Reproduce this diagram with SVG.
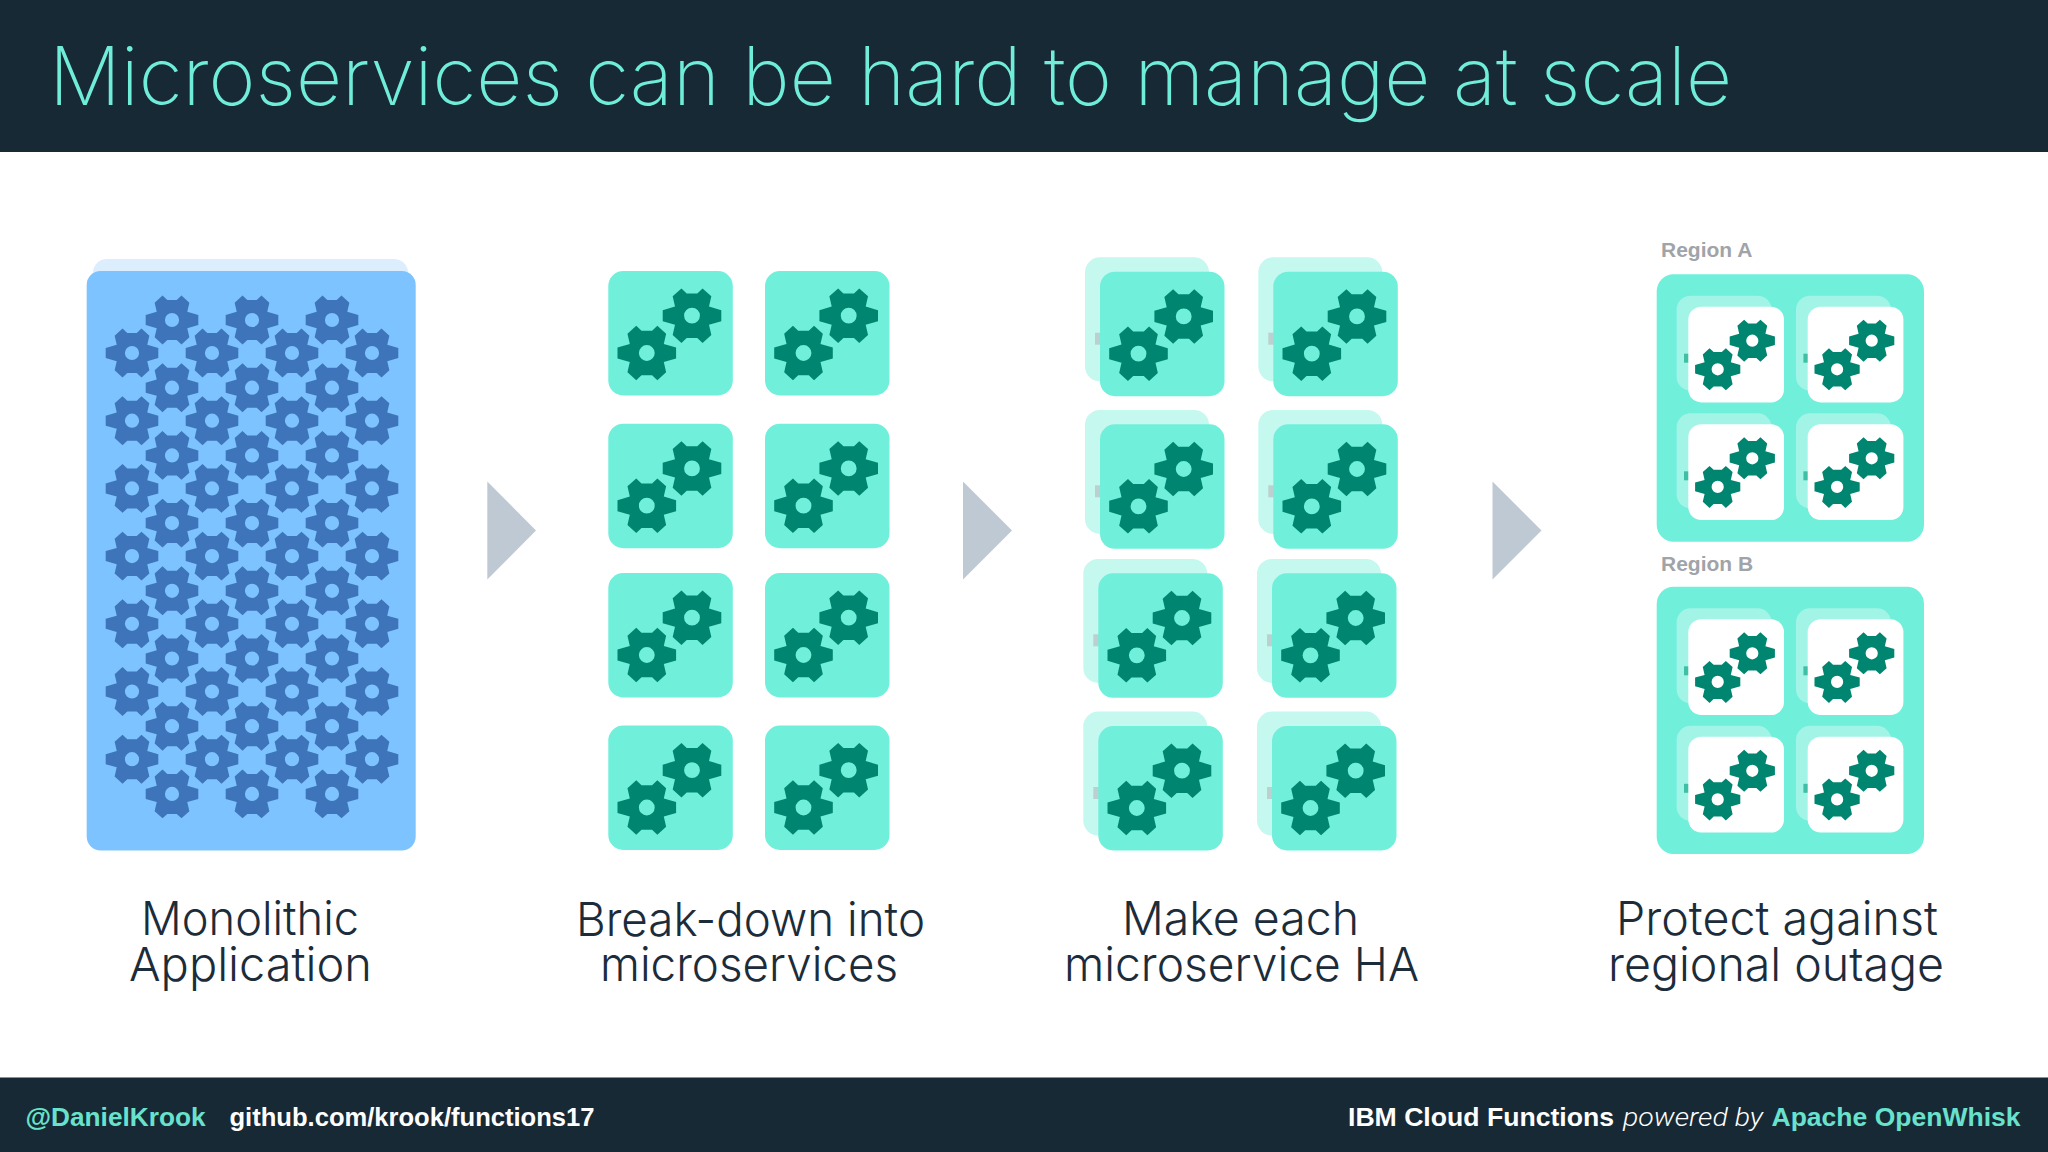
<svg xmlns="http://www.w3.org/2000/svg" width="2048" height="1152" viewBox="0 0 2048 1152">
<style>
.bar{fill:#182936}
.title{font:250 81px Inter,"Liberation Sans",sans-serif;fill:#6fedd8}
.lab{font:300 47px Inter,"Liberation Sans",sans-serif;fill:#1c2c3a}
.foot{font:700 26px "Liberation Sans",Arial,sans-serif}
.ft{fill:#68e2cc}.fw{fill:#fff}
.it{font:italic 300 26px Roboto,"Liberation Sans",sans-serif;fill:#fff}
.reg{font:700 21px "Liberation Sans",Arial,sans-serif;fill:#a0a4a8}
.tri{fill:#bfc9d4}
.mg{fill:#3e74b9}
.tg{fill:#008670}
.teal{fill:#70efdb}
</style>
<defs>
<path id="gear" fill-rule="evenodd" d="M100-19L58-31L66-66L36-93L18-76L-18-76L-36-93L-66-66L-58-31L-100-19L-100 19L-58 31L-66 66L-36 93L-18 76L18 76L36 93L66 66L58 31L100 19ZM27 0A27 27 0 1 0-27 0A27 27 0 1 0 27 0Z"/>
<g id="pair" class="tg">
<use href="#gear" transform="translate(83.7 44.7) scale(.293)"/>
<use href="#gear" transform="translate(38.5 82) scale(.293)"/>
</g>
<g id="card"><rect class="teal" width="124.5" height="124.5" rx="15"/><use href="#pair"/></g>
<g id="ha">
<rect x="-15" y="-14.4" width="124" height="124" rx="15" fill="#c5f8ef"/>
<rect x="-5" y="61" width="6" height="12" fill="#bcd0d0"/>
<use href="#card"/>
</g>
<g id="mini">
<rect x="-11.7" y="-11" width="95" height="95" rx="14" fill="#fff" fill-opacity=".35"/>
<rect x="-4.3" y="47" width="5" height="9" fill="#3fc0a6"/>
<rect width="95.7" height="95.7" rx="13" fill="#fff"/>
<g class="tg">
<use href="#gear" transform="translate(64 34) scale(.226)"/>
<use href="#gear" transform="translate(29.4 62.6) scale(.226)"/>
</g>
</g>
</defs>
<rect width="2048" height="1152" fill="#fff"/>
<rect class="bar" width="2048" height="152"/>
<text class="title" x="49" y="105" textLength="1683" lengthAdjust="spacingAndGlyphs">Microservices can be hard to manage at scale</text>
<g id="monolith">
<rect x="93" y="259" width="315" height="60" rx="14" fill="#dcedfe"/>
<rect x="86.7" y="271" width="329" height="579.5" rx="14" fill="#7cc3ff"/>
<g class="mg">
<use href="#gear" transform="translate(172 320) scale(.263)"/><use href="#gear" transform="translate(172 387.7) scale(.263)"/><use href="#gear" transform="translate(172 455.4) scale(.263)"/><use href="#gear" transform="translate(172 523.1) scale(.263)"/><use href="#gear" transform="translate(172 590.8) scale(.263)"/><use href="#gear" transform="translate(172 658.5) scale(.263)"/><use href="#gear" transform="translate(172 726.2) scale(.263)"/><use href="#gear" transform="translate(172 793.9) scale(.263)"/>
<use href="#gear" transform="translate(252 320) scale(.263)"/><use href="#gear" transform="translate(252 387.7) scale(.263)"/><use href="#gear" transform="translate(252 455.4) scale(.263)"/><use href="#gear" transform="translate(252 523.1) scale(.263)"/><use href="#gear" transform="translate(252 590.8) scale(.263)"/><use href="#gear" transform="translate(252 658.5) scale(.263)"/><use href="#gear" transform="translate(252 726.2) scale(.263)"/><use href="#gear" transform="translate(252 793.9) scale(.263)"/>
<use href="#gear" transform="translate(332 320) scale(.263)"/><use href="#gear" transform="translate(332 387.7) scale(.263)"/><use href="#gear" transform="translate(332 455.4) scale(.263)"/><use href="#gear" transform="translate(332 523.1) scale(.263)"/><use href="#gear" transform="translate(332 590.8) scale(.263)"/><use href="#gear" transform="translate(332 658.5) scale(.263)"/><use href="#gear" transform="translate(332 726.2) scale(.263)"/><use href="#gear" transform="translate(332 793.9) scale(.263)"/>
<use href="#gear" transform="translate(132 353) scale(.263)"/><use href="#gear" transform="translate(132 420.7) scale(.263)"/><use href="#gear" transform="translate(132 488.4) scale(.263)"/><use href="#gear" transform="translate(132 556.1) scale(.263)"/><use href="#gear" transform="translate(132 623.8) scale(.263)"/><use href="#gear" transform="translate(132 691.5) scale(.263)"/><use href="#gear" transform="translate(132 759.2) scale(.263)"/>
<use href="#gear" transform="translate(212 353) scale(.263)"/><use href="#gear" transform="translate(212 420.7) scale(.263)"/><use href="#gear" transform="translate(212 488.4) scale(.263)"/><use href="#gear" transform="translate(212 556.1) scale(.263)"/><use href="#gear" transform="translate(212 623.8) scale(.263)"/><use href="#gear" transform="translate(212 691.5) scale(.263)"/><use href="#gear" transform="translate(212 759.2) scale(.263)"/>
<use href="#gear" transform="translate(292 353) scale(.263)"/><use href="#gear" transform="translate(292 420.7) scale(.263)"/><use href="#gear" transform="translate(292 488.4) scale(.263)"/><use href="#gear" transform="translate(292 556.1) scale(.263)"/><use href="#gear" transform="translate(292 623.8) scale(.263)"/><use href="#gear" transform="translate(292 691.5) scale(.263)"/><use href="#gear" transform="translate(292 759.2) scale(.263)"/>
<use href="#gear" transform="translate(372 353) scale(.263)"/><use href="#gear" transform="translate(372 420.7) scale(.263)"/><use href="#gear" transform="translate(372 488.4) scale(.263)"/><use href="#gear" transform="translate(372 556.1) scale(.263)"/><use href="#gear" transform="translate(372 623.8) scale(.263)"/><use href="#gear" transform="translate(372 691.5) scale(.263)"/><use href="#gear" transform="translate(372 759.2) scale(.263)"/>
</g>
<text class="lab" x="141" y="935" textLength="218" lengthAdjust="spacingAndGlyphs">Monolithic</text>
<text class="lab" x="129" y="981" textLength="243" lengthAdjust="spacingAndGlyphs">Application</text>
</g>
<g id="connectors">
<polygon class="tri" points="487.3,481.5 536,530.5 487.3,579.5"/>
<polygon class="tri" points="963,481.5 1012,530.5 963,579.5"/>
<polygon class="tri" points="1492.5,481.5 1541.5,530.5 1492.5,579.5"/>
</g>
<g id="microservices">
<use href="#card" x="608.3" y="271"/><use href="#card" x="765" y="271"/>
<use href="#card" x="608.3" y="423.7"/><use href="#card" x="765" y="423.7"/>
<use href="#card" x="608.3" y="573"/><use href="#card" x="765" y="573"/>
<use href="#card" x="608.3" y="725.5"/><use href="#card" x="765" y="725.5"/>
<text class="lab" x="576" y="936" textLength="349" lengthAdjust="spacingAndGlyphs">Break-down into</text>
<text class="lab" x="600" y="981" textLength="298" lengthAdjust="spacingAndGlyphs">microservices</text>
</g>
<g id="ha-microservices">
<use href="#ha" x="1100" y="271.7"/><use href="#ha" x="1273.3" y="271.7"/>
<use href="#ha" x="1100" y="424.3"/><use href="#ha" x="1273.3" y="424.3"/>
<use href="#ha" x="1098.3" y="573.3"/><use href="#ha" x="1272" y="573.3"/>
<use href="#ha" x="1098.3" y="726"/><use href="#ha" x="1272" y="726"/>
<text class="lab" x="1122" y="935" textLength="237" lengthAdjust="spacingAndGlyphs">Make each</text>
<text class="lab" x="1064" y="981" textLength="355" lengthAdjust="spacingAndGlyphs">microservice HA</text>
</g>
<g id="regions">
<text class="reg" x="1661" y="256.5">Region A</text>
<rect class="teal" x="1656.7" y="274.3" width="267.3" height="267.4" rx="17"/>
<use href="#mini" x="1688.3" y="306.7"/><use href="#mini" x="1807.7" y="306.7"/>
<use href="#mini" x="1688.3" y="424.3"/><use href="#mini" x="1807.7" y="424.3"/>
<text class="reg" x="1661" y="570.5">Region B</text>
<rect class="teal" x="1656.7" y="586.7" width="267.3" height="267.4" rx="17"/>
<use href="#mini" x="1688.3" y="619.3"/><use href="#mini" x="1807.7" y="619.3"/>
<use href="#mini" x="1688.3" y="736.8"/><use href="#mini" x="1807.7" y="736.8"/>
<text class="lab" x="1616" y="935" textLength="322" lengthAdjust="spacingAndGlyphs">Protect against</text>
<text class="lab" x="1608" y="981" textLength="336" lengthAdjust="spacingAndGlyphs">regional outage</text>
</g>
<g id="footer">
<rect class="bar" y="1077.5" width="2048" height="74.5"/>
<text class="foot ft" x="25.5" y="1126" textLength="180" lengthAdjust="spacingAndGlyphs">@DanielKrook</text>
<text class="foot fw" x="229.5" y="1126" textLength="365" lengthAdjust="spacingAndGlyphs">github.com/krook/functions17</text>
<text class="foot fw" x="1348" y="1126" textLength="266" lengthAdjust="spacingAndGlyphs">IBM Cloud Functions</text>
<text class="it" x="1623" y="1126" textLength="140" lengthAdjust="spacingAndGlyphs">powered by</text>
<text class="foot ft" x="1771.5" y="1126" textLength="249" lengthAdjust="spacingAndGlyphs">Apache OpenWhisk</text>
</g>
</svg>
